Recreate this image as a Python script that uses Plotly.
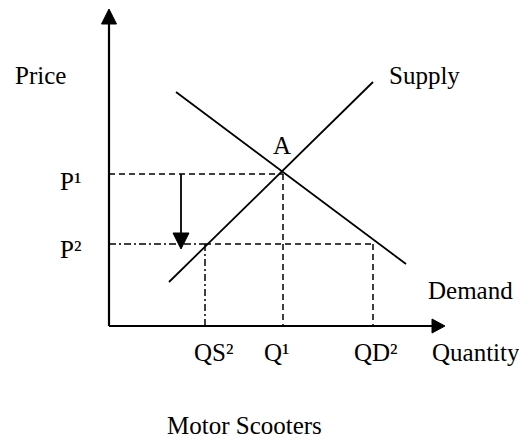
import plotly.graph_objects as go

# ---- data (economic units; origin at the axes corner) ----
supply_q = [60, 264]
supply_p = [44, 244]
demand_q = [67, 297]
demand_p = [234, 62]
Q1 = 174
P1 = 152
P2 = 82
QS2 = 96
QD2 = 264
y_axis_top = 317
x_axis_right = 336
drop_arrow_x = 72
drop_arrow_tip = 77

FONT = dict(family="Liberation Serif, Times New Roman, serif", size=25, color="black")
BLACK = "black"

fig = go.Figure()

def line(xs, ys, width=1.6, dash="solid"):
    fig.add_trace(go.Scatter(x=xs, y=ys, mode="lines",
                             line=dict(color=BLACK, width=width, dash=dash),
                             hoverinfo="skip"))

def tri(xs, ys):
    fig.add_trace(go.Scatter(x=xs + [xs[0]], y=ys + [ys[0]], mode="lines",
                             fill="toself", fillcolor=BLACK,
                             line=dict(color=BLACK, width=1), hoverinfo="skip"))

DASH = "6px,4px"
DASHDOT = "7px,3px,2px,3px"

# guide lines
line([0, Q1], [P1, P1], 1.5, DASH)
line([0, QS2], [P2, P2], 1.5, DASHDOT)
line([QS2, QD2], [P2, P2], 1.5, DASH)
line([QS2, QS2], [P2, 0], 1.5, DASHDOT)
line([Q1, Q1], [P1, 0], 1.5, DASH)
line([QD2, QD2], [P2, 0], 1.5, DASH)

# supply & demand
line(supply_q, supply_p, 1.8)
line(demand_q, demand_p, 1.8)

# axes
line([0, 0], [0, y_axis_top - 14], 2.2)
line([0, x_axis_right - 12], [0, 0], 2.2)
tri([-7.5, 7.5, 0], [y_axis_top - 15, y_axis_top - 15, y_axis_top])
tri([x_axis_right - 13, x_axis_right - 13, x_axis_right], [7, -7, 0])

# price drop arrow
line([drop_arrow_x, drop_arrow_x], [P1, drop_arrow_tip + 14], 1.8)
tri([drop_arrow_x - 8, drop_arrow_x + 8, drop_arrow_x],
    [drop_arrow_tip + 16, drop_arrow_tip + 16, drop_arrow_tip])

def label(text, x, y, xanchor="left"):
    fig.add_annotation(x=x, y=y, text=text, showarrow=False, xanchor=xanchor,
                       yanchor="middle", font=FONT)

label("Price", -96, 251)
label("P¹", -51, 145)
label("P²", -51, 77)
label("A", Q1 - 1, 181, "center")
label("Supply", 278, 251)
label("Demand", 317, 36)
label("QS²", 83, -26)
label("Q¹", 153, -26)
label("QD²", 243, -26)
label("Quantity", 321, -26)
label("Motor Scooters", 56, -99)

# page body has an 8px default margin, so the figure is offset by 8px
fig.update_layout(
    width=519, height=433,
    margin=dict(l=0, r=0, t=0, b=0),
    paper_bgcolor="white", plot_bgcolor="white",
    showlegend=False,
    xaxis=dict(range=[-101, 418], visible=False, fixedrange=True),
    yaxis=dict(range=[-115, 318], visible=False, fixedrange=True),
)

fig.write_html("out.html")
